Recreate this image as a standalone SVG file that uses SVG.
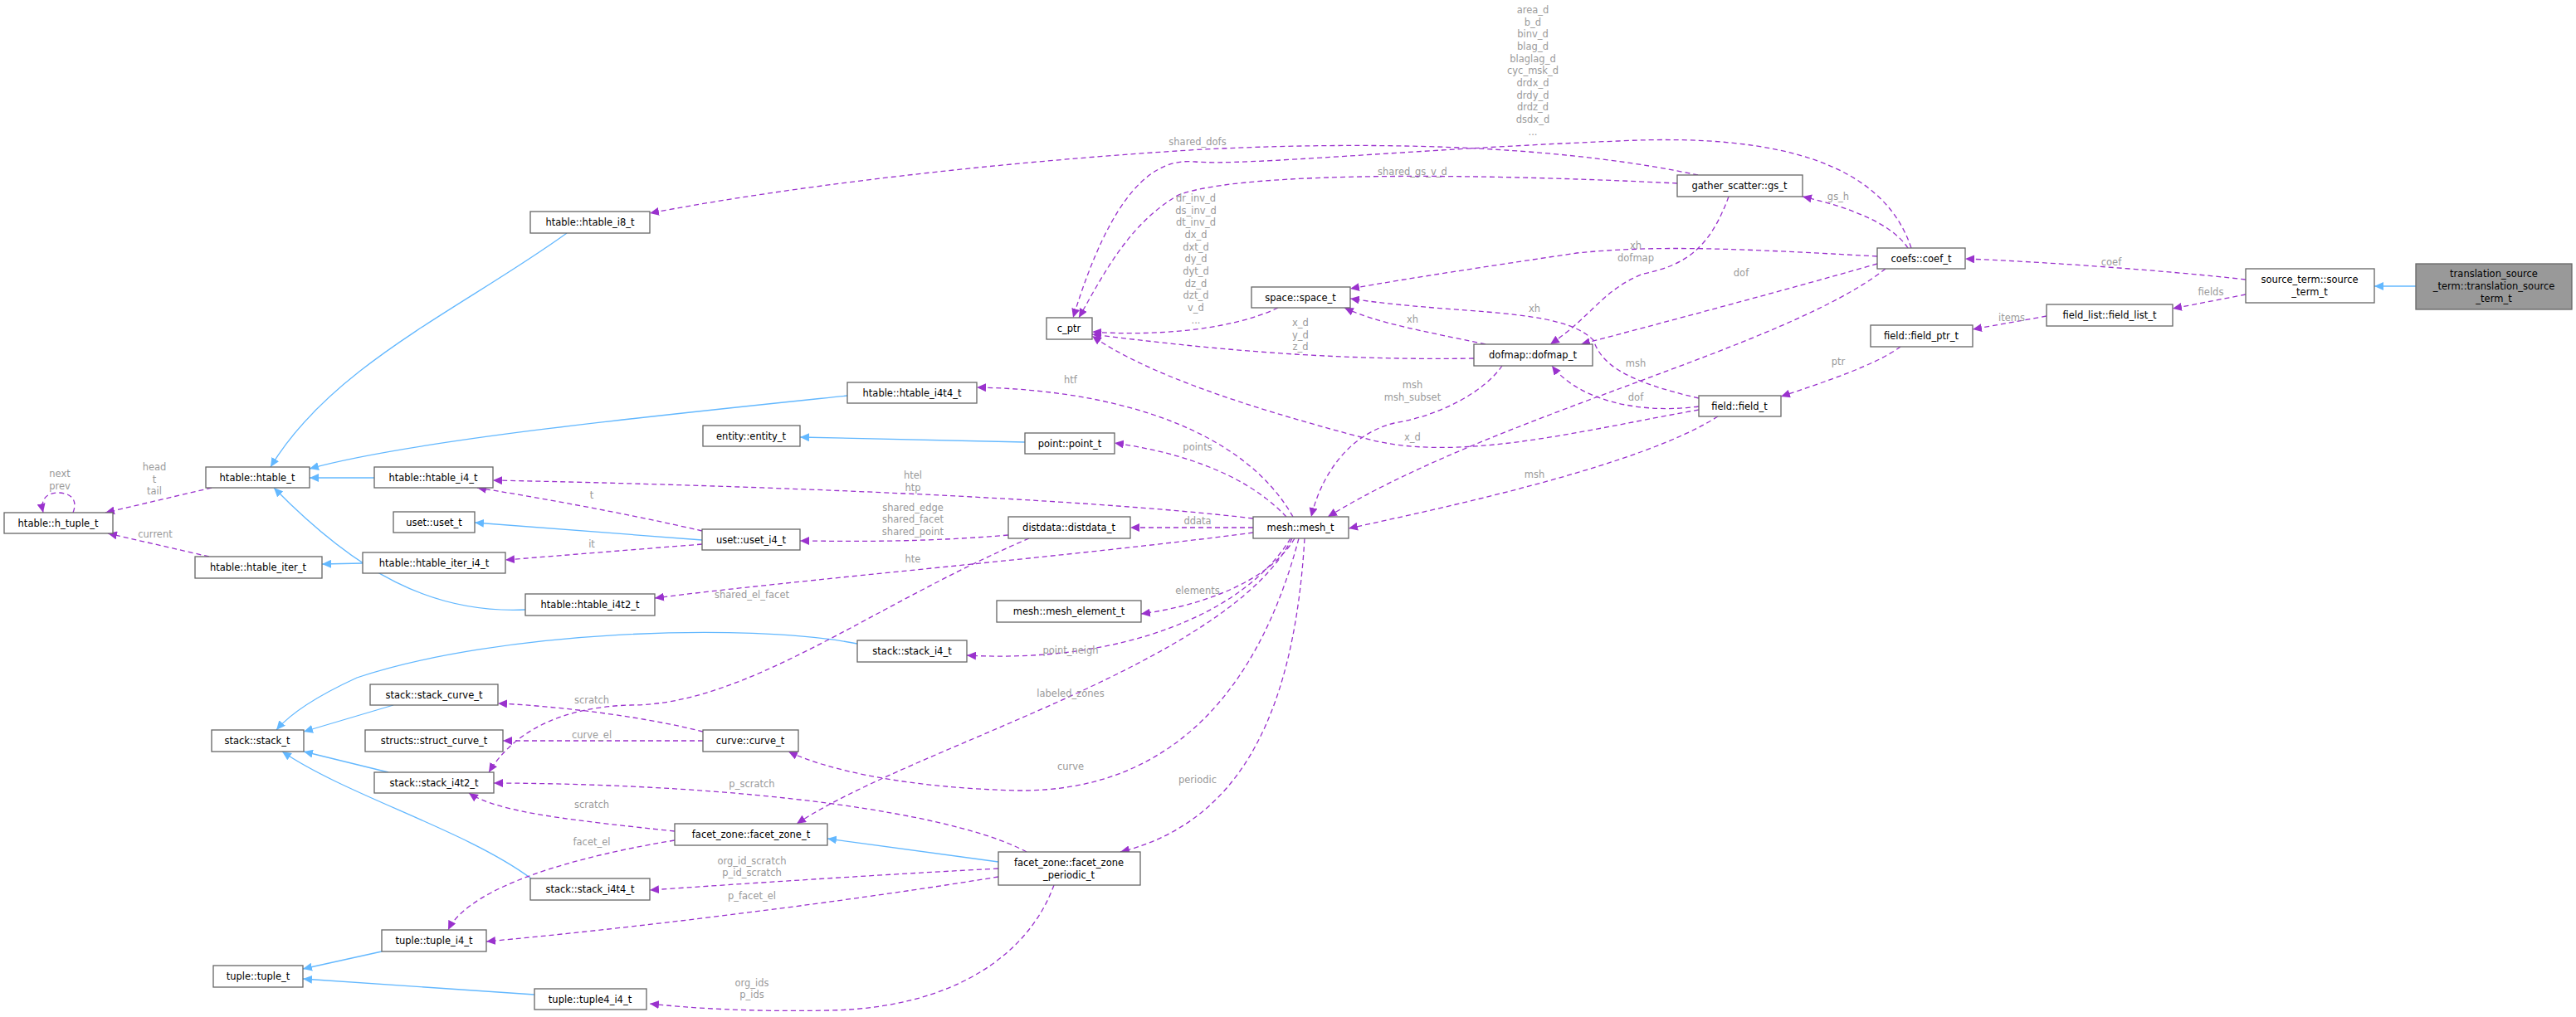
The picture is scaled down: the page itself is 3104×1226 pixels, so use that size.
<svg xmlns="http://www.w3.org/2000/svg" width="3104" height="1226" viewBox="0 0 3104 1226">
<style>
.n rect{fill:#fff;stroke:#666;stroke-width:1.3}
.n text,.l{font-family:"DejaVu Sans",sans-serif;font-size:11.5px;text-anchor:middle}
.n text{fill:#000}
.l{fill:#9a9a9a}
.b{fill:none;stroke:#63b8ff;stroke-width:1.3}
.p{fill:none;stroke:#9a32cd;stroke-width:1.3;stroke-dasharray:6,4}
</style>
<defs>
<marker id="ab" markerUnits="userSpaceOnUse" markerWidth="12" markerHeight="10" refX="11" refY="5" orient="auto"><path d="M0,0 L11,5 L0,10 Z" fill="#63b8ff"/></marker>
<marker id="ap" markerUnits="userSpaceOnUse" markerWidth="12" markerHeight="10" refX="11" refY="5" orient="auto"><path d="M0,0 L11,5 L0,10 Z" fill="#9a32cd"/></marker>
</defs>
<rect width="3104" height="1226" fill="#fff"/>
<g id="edges">
<g marker-end="url(#ab)">
<path class="b" d="M683,281 C560,370 400,440 326,563"/>
<path class="b" d="M1021,477 C800,500 500,530 373,565"/>
<path class="b" d="M451,576 L373,576"/>
<path class="b" d="M633,735 C520,740 430,690 330,588"/>
<path class="b" d="M437,679 L388,680"/>
<path class="b" d="M846,651 L572,630"/>
<path class="b" d="M1235,533 L964,527"/>
<path class="b" d="M1033,776 C900,750 600,760 430,817 C380,840 350,860 333,880"/>
<path class="b" d="M474,850 L366,882"/>
<path class="b" d="M468,931 L366,906"/>
<path class="b" d="M640,1059 C560,1000 420,960 340,906"/>
<path class="b" d="M460,1147 L365,1168"/>
<path class="b" d="M644,1199 L365,1180"/>
<path class="b" d="M1203,1039 L997,1011"/>
<path class="b" d="M2911,345 L2861,345"/>
</g>
<g marker-end="url(#ap)">
<path class="p" d="M255,588 L127,618"/>
<path class="p" d="M88,618 C95,600 82,594 70,594 C58,594 48,600 52,618"/>
<path class="p" d="M252,671 L130,643"/>
<path class="p" d="M846,640 C760,620 650,600 575,588"/>
<path class="p" d="M846,656 L609,675"/>
<path class="p" d="M1510,625 C1300,600 900,585 594,579"/>
<path class="p" d="M1215,645 C1100,655 1000,652 964,652"/>
<path class="p" d="M1510,642 C1300,670 950,700 789,721"/>
<path class="p" d="M1240,649 C1050,730 900,850 760,850 C680,852 620,880 589,931"/>
<path class="p" d="M1510,636 L1362,636"/>
<path class="p" d="M1558,623 C1500,520 1350,470 1177,467"/>
<path class="p" d="M1550,623 C1500,570 1420,545 1343,534"/>
<path class="p" d="M2047,494 C1900,520 1750,560 1640,527 C1500,490 1380,450 1316,405"/>
<path class="p" d="M1810,441 C1790,470 1740,500 1680,510 C1620,525 1590,580 1580,623"/>
<path class="p" d="M2272,324 C2150,420 1800,500 1600,623"/>
<path class="p" d="M2070,502 C1980,560 1750,610 1625,637"/>
<path class="p" d="M2047,490 C1970,500 1900,480 1870,441"/>
<path class="p" d="M2047,480 C1960,460 1930,440 1920,410 C1880,370 1760,380 1627,360"/>
<path class="p" d="M1790,415 C1720,400 1660,390 1620,371"/>
<path class="p" d="M1776,432 C1600,435 1450,420 1316,403"/>
<path class="p" d="M1540,371 C1480,400 1380,405 1316,400"/>
<path class="p" d="M2021,221 C1800,210 1500,205 1420,235 C1360,270 1330,330 1300,383"/>
<path class="p" d="M2303,299 C2270,200 2150,160 1950,170 C1700,180 1500,200 1440,195 C1390,190 1340,230 1293,383"/>
<path class="p" d="M2046,211 C1900,180 1700,168 1450,180 C1200,195 950,225 783,257"/>
<path class="p" d="M2299,299 C2280,270 2230,250 2172,237"/>
<path class="p" d="M2262,309 C2100,300 2000,295 1900,305 C1800,320 1700,335 1627,348"/>
<path class="p" d="M2083,237 C2060,300 2030,320 1980,330 C1930,350 1920,380 1868,415"/>
<path class="p" d="M2262,318 C2150,350 2000,390 1905,415"/>
<path class="p" d="M2706,337 C2600,325 2450,315 2368,312"/>
<path class="p" d="M2706,355 L2618,372"/>
<path class="p" d="M2466,381 L2377,397"/>
<path class="p" d="M2290,418 C2260,440 2200,460 2146,478"/>
<path class="p" d="M1560,649 C1530,700 1450,730 1375,740"/>
<path class="p" d="M1555,649 C1500,740 1350,800 1165,790"/>
<path class="p" d="M1557,649 C1480,800 1100,900 960,993"/>
<path class="p" d="M1565,649 C1520,820 1420,955 1226,953 C1100,950 1000,930 950,906"/>
<path class="p" d="M1572,649 C1560,850 1500,990 1350,1027"/>
<path class="p" d="M847,882 C760,860 650,850 600,848"/>
<path class="p" d="M847,893 L606,893"/>
<path class="p" d="M1237,1027 C1150,980 900,945 595,944"/>
<path class="p" d="M813,1002 C700,990 600,980 565,956"/>
<path class="p" d="M813,1013 C650,1040 560,1080 540,1121"/>
<path class="p" d="M1203,1047 C1050,1055 900,1065 783,1073"/>
<path class="p" d="M1203,1057 C1000,1090 750,1120 586,1135"/>
<path class="p" d="M1270,1067 C1240,1150 1150,1215 1000,1218 C900,1220 830,1215 783,1210"/>
</g>
<g class="l">
<text class="l" x="1847" y="16">area_d</text><text class="l" x="1847" y="31">b_d</text><text class="l" x="1847" y="45">binv_d</text><text class="l" x="1847" y="60">blag_d</text><text class="l" x="1847" y="75">blaglag_d</text><text class="l" x="1847" y="89">cyc_msk_d</text><text class="l" x="1847" y="104">drdx_d</text><text class="l" x="1847" y="119">drdy_d</text><text class="l" x="1847" y="133">drdz_d</text><text class="l" x="1847" y="148">dsdx_d</text><text class="l" x="1847" y="163">...</text>
<text class="l" x="1443" y="175">shared_dofs</text>
<text class="l" x="1702" y="211">shared_gs_v_d</text>
<text class="l" x="1441" y="243">dr_inv_d</text><text class="l" x="1441" y="258">ds_inv_d</text><text class="l" x="1441" y="272">dt_inv_d</text><text class="l" x="1441" y="287">dx_d</text><text class="l" x="1441" y="302">dxt_d</text><text class="l" x="1441" y="316">dy_d</text><text class="l" x="1441" y="331">dyt_d</text><text class="l" x="1441" y="346">dz_d</text><text class="l" x="1441" y="360">dzt_d</text><text class="l" x="1441" y="375">v_d</text><text class="l" x="1441" y="390">...</text>
<text class="l" x="1971" y="300">xh</text><text class="l" x="1971" y="315">dofmap</text>
<text class="l" x="2098" y="333">dof</text>
<text class="l" x="2215" y="241">gs_h</text>
<text class="l" x="2544" y="320">coef</text>
<text class="l" x="2664" y="356">fields</text>
<text class="l" x="2424" y="387">items</text>
<text class="l" x="2215" y="440">ptr</text>
<text class="l" x="1702" y="389">xh</text>
<text class="l" x="1849" y="376">xh</text>
<text class="l" x="1567" y="393">x_d</text><text class="l" x="1567" y="408">y_d</text><text class="l" x="1567" y="422">z_d</text>
<text class="l" x="1971" y="442">msh</text>
<text class="l" x="1971" y="483">dof</text>
<text class="l" x="1702" y="468">msh</text><text class="l" x="1702" y="483">msh_subset</text>
<text class="l" x="1702" y="531">x_d</text>
<text class="l" x="1849" y="576">msh</text>
<text class="l" x="1290" y="462">htf</text>
<text class="l" x="1443" y="543">points</text>
<text class="l" x="1100" y="577">htel</text><text class="l" x="1100" y="592">htp</text>
<text class="l" x="1100" y="616">shared_edge</text><text class="l" x="1100" y="630">shared_facet</text><text class="l" x="1100" y="645">shared_point</text>
<text class="l" x="1443" y="632">ddata</text>
<text class="l" x="1100" y="678">hte</text>
<text class="l" x="906" y="721">shared_el_facet</text>
<text class="l" x="1443" y="716">elements</text>
<text class="l" x="1290" y="788">point_neigh</text>
<text class="l" x="1290" y="840">labeled_zones</text>
<text class="l" x="1290" y="928">curve</text>
<text class="l" x="1443" y="944">periodic</text>
<text class="l" x="72" y="575">next</text><text class="l" x="72" y="590">prev</text>
<text class="l" x="186" y="567">head</text><text class="l" x="186" y="582">t</text><text class="l" x="186" y="596">tail</text>
<text class="l" x="187" y="648">current</text>
<text class="l" x="713" y="601">t</text>
<text class="l" x="713" y="660">it</text>
<text class="l" x="713" y="848">scratch</text>
<text class="l" x="713" y="890">curve_el</text>
<text class="l" x="906" y="949">p_scratch</text>
<text class="l" x="713" y="974">scratch</text>
<text class="l" x="713" y="1019">facet_el</text>
<text class="l" x="906" y="1042">org_id_scratch</text><text class="l" x="906" y="1056">p_id_scratch</text>
<text class="l" x="906" y="1084">p_facet_el</text>
<text class="l" x="906" y="1189">org_ids</text><text class="l" x="906" y="1203">p_ids</text>
</g>
</g>
<g id="translation_source_term" class="n"><rect x="2911" y="318" width="188" height="55" style="fill:#999"/><text x="3005" y="334">translation_source</text><text x="3005" y="349">_term::translation_source</text><text x="3005" y="364">_term_t</text></g>
<g id="source_term" class="n"><rect x="2706" y="324" width="155" height="41"/><text x="2783" y="341">source_term::source</text><text x="2783" y="356">_term_t</text></g>
<g id="coef" class="n"><rect x="2262" y="299" width="106" height="25"/><text x="2315" y="316">coefs::coef_t</text></g>
<g id="gs" class="n"><rect x="2021" y="211" width="151" height="26"/><text x="2096" y="228">gather_scatter::gs_t</text></g>
<g id="field_list" class="n"><rect x="2466" y="367" width="152" height="26"/><text x="2542" y="384">field_list::field_list_t</text></g>
<g id="field_ptr" class="n"><rect x="2254" y="392" width="123" height="26"/><text x="2315" y="409">field::field_ptr_t</text></g>
<g id="field" class="n"><rect x="2047" y="477" width="99" height="25"/><text x="2096" y="494">field::field_t</text></g>
<g id="dofmap" class="n"><rect x="1776" y="415" width="143" height="26"/><text x="1847" y="432">dofmap::dofmap_t</text></g>
<g id="space" class="n"><rect x="1508" y="346" width="119" height="25"/><text x="1567" y="363">space::space_t</text></g>
<g id="c_ptr" class="n"><rect x="1261" y="383" width="55" height="26"/><text x="1288" y="400">c_ptr</text></g>
<g id="mesh" class="n"><rect x="1510" y="623" width="115" height="26"/><text x="1567" y="640">mesh::mesh_t</text></g>
<g id="distdata" class="n"><rect x="1215" y="623" width="147" height="26"/><text x="1288" y="640">distdata::distdata_t</text></g>
<g id="point" class="n"><rect x="1235" y="522" width="108" height="25"/><text x="1289" y="539">point::point_t</text></g>
<g id="htable_i4t4" class="n"><rect x="1021" y="461" width="156" height="25"/><text x="1099" y="478">htable::htable_i4t4_t</text></g>
<g id="entity" class="n"><rect x="847" y="513" width="117" height="25"/><text x="905" y="530">entity::entity_t</text></g>
<g id="htable_i8" class="n"><rect x="639" y="255" width="144" height="26"/><text x="711" y="272">htable::htable_i8_t</text></g>
<g id="htable" class="n"><rect x="248" y="563" width="125" height="25"/><text x="310" y="580">htable::htable_t</text></g>
<g id="htable_i4" class="n"><rect x="451" y="563" width="143" height="25"/><text x="522" y="580">htable::htable_i4_t</text></g>
<g id="h_tuple" class="n"><rect x="5" y="618" width="131" height="25"/><text x="70" y="635">htable::h_tuple_t</text></g>
<g id="uset" class="n"><rect x="474" y="617" width="98" height="25"/><text x="523" y="634">uset::uset_t</text></g>
<g id="uset_i4" class="n"><rect x="846" y="638" width="118" height="25"/><text x="905" y="655">uset::uset_i4_t</text></g>
<g id="htable_iter" class="n"><rect x="235" y="671" width="153" height="26"/><text x="311" y="688">htable::htable_iter_t</text></g>
<g id="htable_iter_i4" class="n"><rect x="437" y="666" width="172" height="25"/><text x="523" y="683">htable::htable_iter_i4_t</text></g>
<g id="htable_i4t2" class="n"><rect x="633" y="716" width="156" height="26"/><text x="711" y="733">htable::htable_i4t2_t</text></g>
<g id="mesh_element" class="n"><rect x="1201" y="724" width="174" height="26"/><text x="1288" y="741">mesh::mesh_element_t</text></g>
<g id="stack_i4" class="n"><rect x="1033" y="772" width="132" height="26"/><text x="1099" y="789">stack::stack_i4_t</text></g>
<g id="stack_curve" class="n"><rect x="446" y="825" width="154" height="25"/><text x="523" y="842">stack::stack_curve_t</text></g>
<g id="stack" class="n"><rect x="255" y="880" width="111" height="26"/><text x="310" y="897">stack::stack_t</text></g>
<g id="struct_curve" class="n"><rect x="440" y="880" width="166" height="26"/><text x="523" y="897">structs::struct_curve_t</text></g>
<g id="curve" class="n"><rect x="847" y="880" width="115" height="26"/><text x="904" y="897">curve::curve_t</text></g>
<g id="stack_i4t2" class="n"><rect x="451" y="931" width="144" height="25"/><text x="523" y="948">stack::stack_i4t2_t</text></g>
<g id="facet_zone" class="n"><rect x="813" y="993" width="184" height="26"/><text x="905" y="1010">facet_zone::facet_zone_t</text></g>
<g id="facet_zone_periodic" class="n"><rect x="1203" y="1027" width="171" height="40"/><text x="1288" y="1044">facet_zone::facet_zone</text><text x="1288" y="1059">_periodic_t</text></g>
<g id="stack_i4t4" class="n"><rect x="639" y="1059" width="144" height="26"/><text x="711" y="1076">stack::stack_i4t4_t</text></g>
<g id="tuple_i4" class="n"><rect x="460" y="1121" width="126" height="26"/><text x="523" y="1138">tuple::tuple_i4_t</text></g>
<g id="tuple" class="n"><rect x="257" y="1164" width="108" height="26"/><text x="311" y="1181">tuple::tuple_t</text></g>
<g id="tuple4_i4" class="n"><rect x="644" y="1192" width="135" height="25"/><text x="711" y="1209">tuple::tuple4_i4_t</text></g>
</svg>
